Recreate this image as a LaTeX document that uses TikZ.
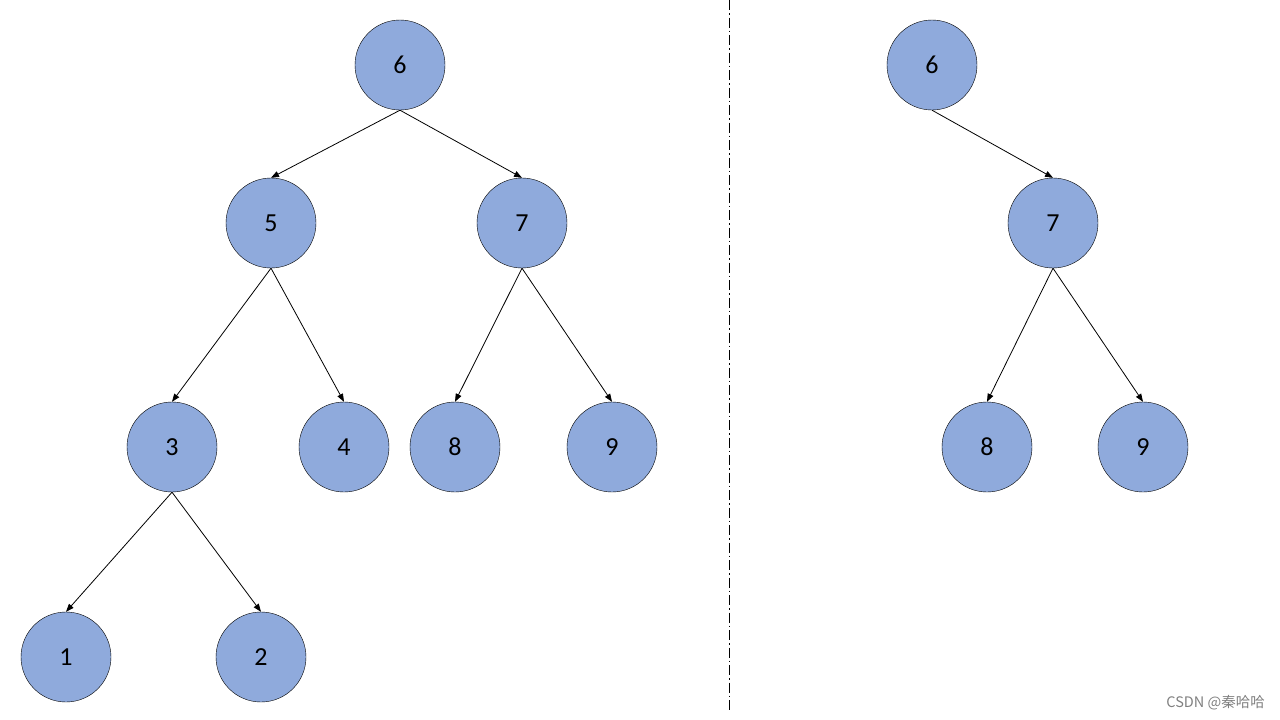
\documentclass[tikz,border=0pt]{standalone}
\usepackage{fontspec}
\setmainfont{Carlito}
\newfontfamily\cjk{Noto Sans CJK SC}
\usetikzlibrary{arrows.meta}
\definecolor{nodeblue}{HTML}{8FAADC}
\tikzset{
  key/.style={circle, draw=black, fill=nodeblue, minimum size=90pt, inner sep=0pt, font=\fontsize{26}{30}\selectfont},
  link/.style={-{Triangle[length=8pt,width=6pt]}, line width=0.8pt}
}
\begin{document}
\begin{tikzpicture}[x=1pt,y=-1pt]
      \useasboundingbox (0,0) rectangle (1280,720);
      \draw
        (400,65) node[key] (n6){6}
        (271,223) node[key] (n5){5}
        (522,223) node[key] (n7){7}
        (172,447) node[key] (n3){3}
        (344,447) node[key] (n4){4}
        (455,447) node[key] (n8){8}
        (612,447) node[key] (n9){9}
        (66,657) node[key] (n1){1}
        (261,657) node[key] (n2){2};
      \draw
        (932,65) node[key] (r6){6}
        (1053,223) node[key] (r7){7}
        (987,447) node[key] (r8){8}
        (1143,447) node[key] (r9){9};
      \begin{scope}[link]
        \draw (n6.south) to (n5.north);
        \draw (n6.south) to (n7.north);
        \draw (n5.south) to (n3.north);
        \draw (n5.south) to (n4.north);
        \draw (n7.south) to (n8.north);
        \draw (n7.south) to (n9.north);
        \draw (n3.south) to (n1.north);
        \draw (n3.south) to (n2.north);
        \draw (r6.south) to (r7.north);
        \draw (r7.south) to (r8.north);
        \draw (r7.south) to (r9.north);
      \end{scope}
      \coordinate (top) at (729,0);
      \coordinate (bottom) at (729,712);
      \draw[line width=0.9pt, dash pattern=on 10pt off 3pt on 1.5pt off 3pt] (top) -- (bottom);
      \node[anchor=east, text=gray, font=\cjk\fontsize{14.5}{17}\selectfont, inner sep=0pt] (mark) at (1265,703) {CSDN @秦哈哈};
    \end{tikzpicture}
\end{document}
